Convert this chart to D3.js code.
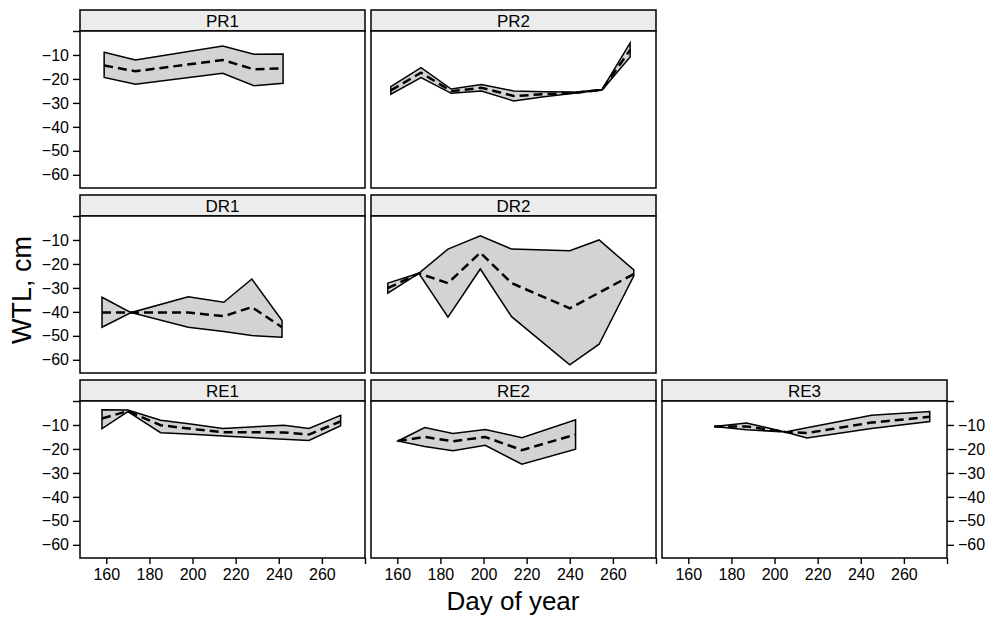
<!DOCTYPE html>
<html>
<head>
<meta charset="utf-8">
<script src="https://cdn.jsdelivr.net/npm/d3@7"></script>
<style>
  body { margin: 0; background: #fff; }
  text { font-family: "Liberation Sans", Arial, sans-serif; fill: #000; }
</style>
</head>
<body>
<svg width="992" height="621"></svg>
<script>
// panel names, in lattice layout order
const sites = ['PR1', 'PR2', 'DR1', 'DR2', 'RE1', 'RE2', 'RE3'];
const cols  = [0, 1, 0, 1, 0, 1, 2];
const rows  = [0, 0, 1, 1, 2, 2, 2];

// day of year and water table level (cm): upper, mean, lower
const PR1_day  = [159, 173.5, 214, 228.5, 242];
const PR1_hi   = [-8.9, -12.1, -6.3, -9.7, -9.6];
const PR1_mean = [-14.4, -16.8, -12.1, -16.0, -15.6];
const PR1_lo   = [-19.4, -22.2, -17.6, -22.8, -21.8];

const PR2_day  = [157, 171, 185, 199, 214, 228, 242, 255, 268];
const PR2_hi   = [-23.2, -15.3, -24.2, -22.3, -25.0, -25.3, -25.5, -24.4, -5.0];
const PR2_mean = [-24.8, -17.4, -25.1, -23.7, -27.1, -26.4, -25.8, -24.5, -7.9];
const PR2_lo   = [-26.4, -19.4, -26.0, -25.0, -29.2, -27.4, -26.0, -24.6, -10.8];

const DR1_day  = [158, 171.5, 198, 214.5, 227.5, 241.5];
const DR1_hi   = [-33.9, -40.3, -33.7, -36.0, -26.3, -43.6];
const DR1_mean = [-40.3, -40.3, -40.3, -41.8, -38.0, -46.4];
const DR1_lo   = [-46.4, -40.3, -46.4, -48.2, -49.9, -50.6];

const DR2_day  = [155.6, 170, 183.5, 198.5, 213, 240, 253.6, 269.7];
const DR2_hi   = [-28.0, -23.9, -13.8, -8.3, -13.8, -14.5, -10.0, -22.5];
const DR2_mean = [-30.1, -23.9, -28.0, -15.3, -28.0, -38.5, -32.0, -24.2];
const DR2_lo   = [-32.2, -23.9, -42.2, -22.1, -42.0, -62.1, -53.5, -25.0];

const RE1_day  = [158, 170, 185.2, 200, 214, 242.4, 254, 268.7];
const RE1_hi   = [-3.6, -3.8, -8.0, -9.7, -11.5, -10.1, -11.5, -6.0];
const RE1_mean = [-7.3, -4.2, -10.1, -11.7, -13.0, -13.1, -14.0, -8.5];
const RE1_lo   = [-11.5, -4.4, -13.2, -13.9, -14.6, -16.0, -16.5, -10.3];

const RE2_day  = [160.3, 172.7, 185.8, 200.8, 217.8, 242.7];
const RE2_hi   = [-16.7, -11.1, -13.6, -11.9, -15.3, -7.8];
const RE2_mean = [-16.7, -15.0, -16.8, -15.0, -20.5, -14.0];
const RE2_lo   = [-16.7, -19.0, -20.8, -18.5, -26.4, -20.1];

const RE3_day  = [172, 187, 205, 215, 245, 272];
const RE3_hi   = [-10.6, -9.2, -12.9, -11.2, -5.9, -4.4];
const RE3_mean = [-10.6, -10.6, -12.9, -13.4, -9.0, -6.6];
const RE3_lo   = [-10.6, -12.0, -12.9, -15.4, -11.5, -8.6];

const xTicks = [160, 180, 200, 220, 240, 260, 280];
const yTicks = [0, -10, -20, -30, -40, -50, -60];

const series = {
  PR1: [PR1_day, PR1_hi, PR1_mean, PR1_lo],
  PR2: [PR2_day, PR2_hi, PR2_mean, PR2_lo],
  DR1: [DR1_day, DR1_hi, DR1_mean, DR1_lo],
  DR2: [DR2_day, DR2_hi, DR2_mean, DR2_lo],
  RE1: [RE1_day, RE1_hi, RE1_mean, RE1_lo],
  RE2: [RE2_day, RE2_hi, RE2_mean, RE2_lo],
  RE3: [RE3_day, RE3_hi, RE3_mean, RE3_lo]
};

const LEFT = 80, TOP = 10;
const PW = 285, PH = 157, STRIP = 21;
const COLSTEP = 291, ROWSTEP = 185;
const FONT = '"Liberation Sans", Arial, sans-serif';

const svg = d3.select('svg');

const x = d3.scaleLinear().domain([147.8, 280]).range([0, PW]);
const y = d3.scaleLinear().domain([-65.5, 0]).range([PH, 0]);

const area = d3.area().x(d => x(d.day)).y0(d => y(d.lo)).y1(d => y(d.hi));
const line = d3.line().x(d => x(d.day)).y(d => y(d.mean));

sites.forEach((name, i) => {
  const [days, hi, mean, lo] = series[name];
  const pts = days.map((d, k) => ({day: d, hi: hi[k], mean: mean[k], lo: lo[k]}));
  const col = cols[i], row = rows[i];
  const g = svg.append('g')
    .attr('transform', `translate(${LEFT + col * COLSTEP},${TOP + row * ROWSTEP})`);

  // strip
  g.append('rect').attr('width', PW).attr('height', STRIP)
    .attr('fill', '#ececec').attr('stroke', '#000').attr('stroke-width', 1.5);
  g.append('text').attr('x', PW / 2).attr('y', 16.8)
    .attr('text-anchor', 'middle').attr('font-size', 17).text(name);

  const p = g.append('g').attr('transform', `translate(0,${STRIP})`);
  p.append('rect').attr('width', PW).attr('height', PH)
    .attr('fill', '#fff');

  p.append('path').datum(pts).attr('d', area)
    .attr('fill', '#d3d3d3').attr('stroke', '#000')
    .attr('stroke-width', 1.5).attr('stroke-linejoin', 'miter');
  p.append('path').datum(pts).attr('d', line)
    .attr('fill', 'none').attr('stroke', '#000')
    .attr('stroke-width', 2.5).attr('stroke-dasharray', '9,5');

  p.append('rect').attr('width', PW).attr('height', PH)
    .attr('fill', 'none').attr('stroke', '#000').attr('stroke-width', 1.5);

  // y axis left on first column, right on RE3
  if (col === 0 || name === 'RE3') {
    const ax = (col === 0 ? d3.axisLeft(y) : d3.axisRight(y))
      .tickValues(yTicks).tickSize(7).tickPadding(4)
      .tickFormat(d => d === 0 ? '' : d3.format('d')(d));
    const a = p.append('g')
      .attr('transform', col === 0 ? 'translate(0,0)' : `translate(${PW},0)`)
      .call(ax);
    a.select('.domain').remove();
    a.selectAll('line').attr('stroke', '#000').attr('stroke-width', 1.4);
    a.selectAll('text').attr('font-size', 16).attr('font-family', FONT);
  }

  // x axis at bottom row
  if (row === 2) {
    const ax = d3.axisBottom(x).tickValues(xTicks).tickSize(6).tickPadding(5)
      .tickFormat(d => d === 280 ? '' : d);
    const a = p.append('g').attr('transform', `translate(0,${PH})`).call(ax);
    a.select('.domain').remove();
    a.selectAll('line').attr('stroke', '#000').attr('stroke-width', 1.4);
    a.selectAll('text').attr('font-size', 16).attr('font-family', FONT);
  }
});

svg.append('text')
  .attr('x', 513).attr('y', 610)
  .attr('text-anchor', 'middle').attr('font-size', 26)
  .text('Day of year');

svg.append('text')
  .attr('transform', 'translate(31,290) rotate(-90)')
  .attr('text-anchor', 'middle').attr('font-size', 27)
  .text('WTL, cm');
</script>
</body>
</html>
